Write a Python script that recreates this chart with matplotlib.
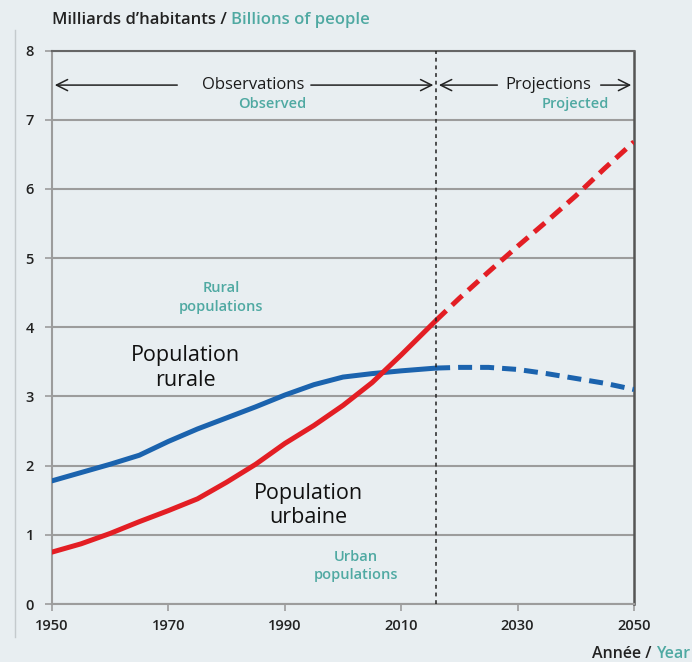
import matplotlib
matplotlib.use("Agg")
import matplotlib.pyplot as plt
from matplotlib.lines import Line2D

plt.rcParams["font.family"] = ["Open Sans", "DejaVu Sans"]

# observed values (billions of people)
obs_years = [1950, 1955, 1960, 1965, 1970, 1975, 1980, 1985, 1990, 1995, 2000, 2005, 2010, 2016]
urban_obs = [0.75, 0.87, 1.02, 1.19, 1.35, 1.52, 1.76, 2.02, 2.32, 2.58, 2.87, 3.20, 3.60, 4.10]
rural_obs = [1.78, 1.90, 2.02, 2.15, 2.35, 2.53, 2.69, 2.85, 3.02, 3.17, 3.28, 3.33, 3.37, 3.41]

# projected values
proj_years = [2016, 2020, 2025, 2030, 2035, 2040, 2045, 2050]
urban_proj = [4.10, 4.42, 4.80, 5.17, 5.53, 5.90, 6.30, 6.68]
rural_proj = [3.41, 3.42, 3.42, 3.39, 3.33, 3.26, 3.19, 3.10]

x_ticks = [1950, 1970, 1990, 2010, 2030, 2050]
y_ticks = [0, 1, 2, 3, 4, 5, 6, 7, 8]
split_year = 2016

BG = "#e8eef1"
RED = "#e31e24"
BLUE = "#1b63ae"
TEAL = "#4fa9a2"
GRID = "#9c9c9c"

fig = plt.figure(figsize=(6.92, 6.62), dpi=100, facecolor=BG)
ax = fig.add_axes([52 / 692, 1 - 604 / 662, 582 / 692, 553.5 / 662])
ax.set_facecolor(BG)

ax.set_xlim(1950, 2050)
ax.set_ylim(0, 8)
ax.set_xticks(x_ticks)
ax.set_yticks(y_ticks)
ax.tick_params(axis="both", colors=GRID, labelcolor="#222222", labelsize=10.5, length=5, width=1.2)
ax.tick_params(axis="x", pad=6)
ax.tick_params(axis="y", pad=8)
for lab in ax.get_xticklabels() + ax.get_yticklabels():
    lab.set_fontweight("semibold")

ax.yaxis.grid(True, color=GRID, linewidth=1.5)
ax.set_axisbelow(True)
for side in ["left", "bottom"]:
    ax.spines[side].set_color(GRID)
    ax.spines[side].set_linewidth(1.5)
ax.spines["top"].set_color("#666666")
ax.spines["top"].set_linewidth(1.5)
ax.spines["right"].set_color("#555555")
ax.spines["right"].set_linewidth(1.8)

# series
ax.plot(obs_years, rural_obs, color=BLUE, lw=3.6, solid_capstyle="round", zorder=3)
ax.plot(obs_years, urban_obs, color=RED, lw=3.6, solid_capstyle="round", zorder=4)
ax.plot(proj_years, rural_proj, color=BLUE, lw=3.6, ls=(0, (2.8, 1.6)), zorder=3)
ax.plot(proj_years, urban_proj, color=RED, lw=3.6, ls=(0, (2.8, 1.6)), zorder=4)

# split between observed and projected
ax.axvline(split_year, color="#222222", lw=1.1, ls=(0, (2.5, 2.5)), zorder=5)

# arrows
arr = dict(arrowstyle="->", color="#222222", lw=1.1, mutation_scale=20)
ax.annotate("", xy=(1950, 7.5), xytext=(1972, 7.5), arrowprops=arr)
ax.annotate("", xy=(split_year, 7.5), xytext=(1994, 7.5), arrowprops=arr)
ax.annotate("", xy=(split_year, 7.5), xytext=(2027, 7.5), arrowprops=arr)
ax.annotate("", xy=(2050, 7.5), xytext=(2043.8, 7.5), arrowprops=arr)

ax.text(1984.5, 7.5, "Observations", ha="center", va="center", fontsize=12, color="#1a1a1a")
ax.text(1987.8, 7.23, "Observed", ha="center", va="center", fontsize=10.5, color=TEAL, fontweight="semibold")
ax.text(2035.2, 7.5, "Projections", ha="center", va="center", fontsize=12, color="#1a1a1a")
ax.text(2039.9, 7.23, "Projected", ha="center", va="center", fontsize=10.5, color=TEAL, fontweight="semibold")

ax.text(1979, 4.43, "Rural\npopulations", ha="center", va="center", fontsize=10.5,
        color=TEAL, fontweight="semibold", linespacing=1.4)
ax.text(1972.9, 3.41, "Population\nrurale", ha="center", va="center", fontsize=15.5,
        color="#111111", linespacing=1.2)
ax.text(1994, 1.42, "Population\nurbaine", ha="center", va="center", fontsize=15.5,
        color="#111111", linespacing=1.2)
ax.text(2002.2, 0.55, "Urban\npopulations", ha="center", va="center", fontsize=10.5,
        color=TEAL, fontweight="semibold", linespacing=1.4)

# header and axis captions
t1 = fig.text(52 / 692, 1 - 20 / 662, "Milliards d\u2019habitants / ", ha="left", va="center",
              fontsize=12, color="#222222", fontweight="semibold")
fig.canvas.draw()
bb = t1.get_window_extent()
fig.text(bb.x1 / fig.bbox.width, 1 - 20 / 662, "Billions of people", ha="left", va="center",
         fontsize=12, color=TEAL, fontweight="semibold")

t2 = fig.text(690 / 692, 1 - 654 / 662, "Year", ha="right", va="center",
              fontsize=11.5, color=TEAL, fontweight="semibold")
fig.canvas.draw()
bb2 = t2.get_window_extent()
fig.text(bb2.x0 / fig.bbox.width, 1 - 654 / 662, "Ann\u00e9e / ", ha="right", va="center",
         fontsize=11.5, color="#222222", fontweight="semibold")

# faint outer frame
fig.add_artist(Line2D([15 / 692, 15 / 692], [1 - 30 / 662, 1 - 637 / 662], color="#c4cacd", lw=1))

fig.savefig("out.png", dpi=100, facecolor=BG)
